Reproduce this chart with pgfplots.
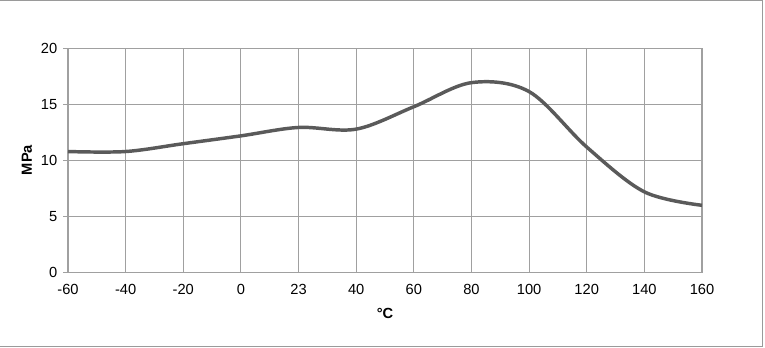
\documentclass[border=0pt]{standalone}
\usepackage{pgfplots}
\pgfplotsset{compat=1.18}
\usepackage{fontspec}
\setmainfont{Liberation Sans}
\definecolor{linegray}{HTML}{5A5A5A}
\definecolor{gridgray}{HTML}{A0A0A0}
\definecolor{framegray}{HTML}{9A9A9A}
\begin{document}
\begin{tikzpicture}[x=0.75pt,y=0.75pt]
\useasboundingbox (0,0) rectangle (765,348);
\draw[framegray,line width=1.1pt] (0,347.5) -- (762.5,347.5) -- (762.5,1.5) -- (0,1.5);
\begin{axis}[
  at={(68*0.75pt,75.5*0.75pt)}, anchor=south west,
  scale only axis,
  width=475.5pt, height=168pt,
  xmin=0, xmax=11, ymin=0, ymax=20,
  xtick={0,...,11},
  xticklabels={-60,-40,-20,0,23,40,60,80,100,120,140,160},
  ytick={0,5,10,15,20},
  grid=major,
  major grid style={gridgray, line width=0.85pt},
  axis line style={gridgray, line width=1.1pt},
  tick style={gridgray, line width=0.85pt},
  tick align=outside,
  xtick style={draw=none},
  major tick length=3.5pt,
  ytick pos=left,
  xtick pos=bottom,
  /pgf/number format/assume math mode=true,
  ticklabel style={font=\fontsize{11}{13}\selectfont, text=black},
  yticklabel style={xshift=-1pt},
  xticklabel style={yshift=-2pt},
  ylabel={\textbf{MPa}},
  xlabel={\textbf{°C}},
  label style={font=\fontsize{11}{13}\selectfont},
  ylabel style={at={(axis description cs:-0.0647,0.502)}, anchor=center, rotate=0},
  xlabel style={at={(axis description cs:0.5,-0.181)}, anchor=center},
  clip=false,
]
\addplot[linegray, line width=2.6pt, smooth, tension=0.55] coordinates {
 (0,10.8) (1,10.8) (2,11.5) (3,12.2) (4,12.95) (5,12.8) (6,14.8) (7,16.95) (8,16.15) (9,11.2) (10,7.2) (11,6.0)
};
\end{axis}
\end{tikzpicture}
\end{document}
